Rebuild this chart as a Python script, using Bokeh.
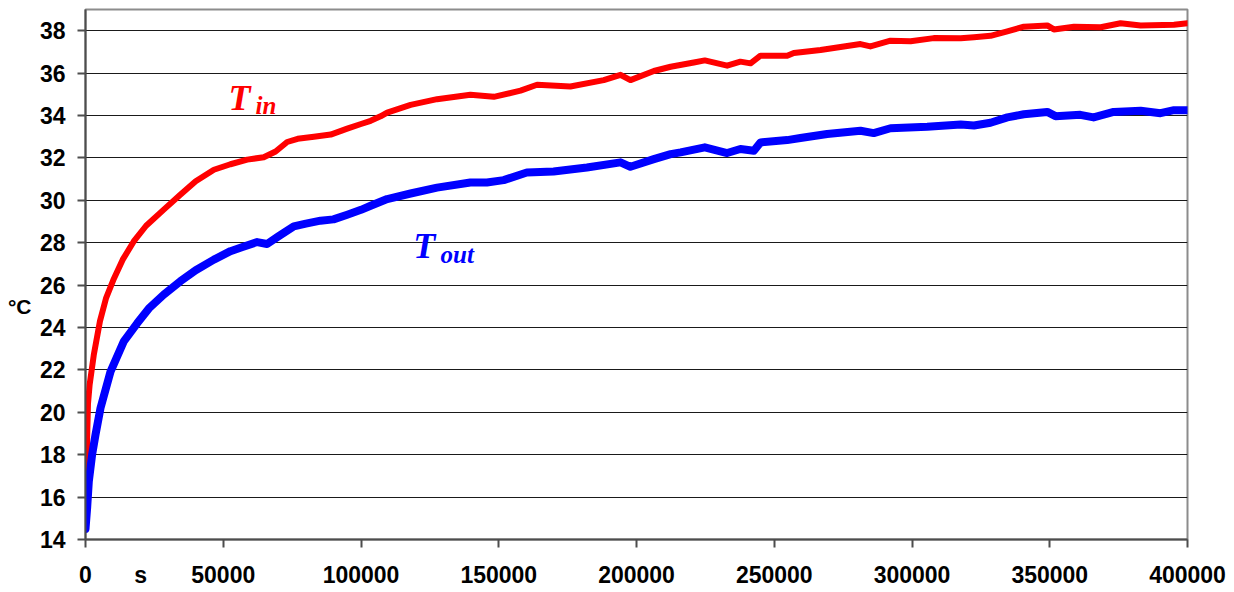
from bokeh.plotting import figure
from bokeh.models import FixedTicker, BasicTickFormatter, Label, Range1d, LinearAxis
from bokeh.embed import file_html
from bokeh.resources import INLINE

t_in_x = [0, 300, 600, 900, 1500, 3000, 5250, 7500, 10300, 13500, 17500, 22000, 28400, 34400,
          40000, 46600, 52600, 58700, 64700, 69000, 73200, 77000, 82900, 89000, 95000, 100000,
          103500, 107100, 109500, 118000, 127600, 139700, 148200, 157900, 163900, 176000, 188100,
          194200, 197800, 206300, 212400, 220800, 224800, 232900, 237700, 241400, 245000, 254700,
          257100, 266800, 281300, 284900, 292200, 299500, 307900, 317700, 322500, 328500, 334600,
          340600, 349100, 351500, 358800, 368500, 375700, 383000, 395100, 400000]
t_in_y = [14.6, 16.5, 18.8, 20.4, 21.3, 22.7, 24.3, 25.4, 26.3, 27.2, 28.06, 28.8, 29.56, 30.26,
          30.9, 31.44, 31.7, 31.92, 32.03, 32.3, 32.75, 32.9, 33.0, 33.1, 33.38, 33.6,
          33.75, 33.96, 34.14, 34.5, 34.77, 34.98, 34.88, 35.17, 35.45, 35.37, 35.67,
          35.92, 35.67, 36.1, 36.3, 36.5, 36.6, 36.35, 36.54, 36.46, 36.82, 36.82,
          36.95, 37.09, 37.37, 37.26, 37.53, 37.5, 37.65, 37.64, 37.69, 37.76, 37.97,
          38.19, 38.25, 38.06, 38.19, 38.16, 38.35, 38.25, 38.28, 38.35]

t_out_x = [0, 600, 1200, 2400, 3630, 5450, 9080, 13900, 18750, 23000, 28400, 34400, 40000, 46600,
           52600, 57000, 62300, 65900, 70000, 75600, 80000, 85300, 90000, 95000, 100000, 103500,
           109500, 118000, 127600, 139700, 145700, 151800, 160200, 169900, 182000, 194200, 197800,
           206300, 212400, 216000, 224800, 232900, 237700, 242600, 245000, 254700, 259500, 269200,
           281300, 286100, 292200, 305500, 317700, 322500, 328500, 334600, 340600, 349100, 352100,
           361100, 365900, 373200, 383000, 390200, 395100, 400000]
t_out_y = [14.5, 15.5, 16.74, 18.0, 18.94, 20.2, 21.92, 23.35, 24.2, 24.9, 25.55, 26.18, 26.7, 27.2,
           27.6, 27.8, 28.03, 27.94, 28.3, 28.77, 28.9, 29.04, 29.1, 29.32, 29.55, 29.74,
           30.06, 30.32, 30.6, 30.84, 30.84, 30.95, 31.31, 31.36, 31.55, 31.79, 31.58,
           31.94, 32.18, 32.26, 32.5, 32.23, 32.42, 32.34, 32.73, 32.84, 32.94, 33.13,
           33.28, 33.17, 33.4, 33.47, 33.57, 33.53, 33.66, 33.91, 34.06, 34.17, 33.97,
           34.03, 33.91, 34.17, 34.22, 34.11, 34.25, 34.25]

y_ticks = [14, 16, 18, 20, 22, 24, 26, 28, 30, 32, 34, 36, 38]
x_ticks = [0, 50000, 100000, 150000, 200000, 250000, 300000, 350000, 400000]
x_unit_pos = 20000
x_unit = "s"
y_unit_pos = 25.0
y_unit = "°C"

p = figure(width=1226, height=590, output_backend="svg", toolbar_location=None,
           x_range=Range1d(0, 400000), y_range=Range1d(14, 39),
           x_axis_location=None, y_axis_location=None,
           min_border_left=85, min_border_right=39, min_border_top=9, min_border_bottom=46)
p.background_fill_color = "white"
p.border_fill_color = "white"
p.outline_line_color = "#8c8c8c"
p.outline_line_width = 2

p.xgrid.visible = False
p.ygrid.grid_line_color = "#1a1a1a"
p.ygrid.grid_line_width = 1
p.ygrid.ticker = FixedTicker(ticks=y_ticks)

def style(ax):
    ax.axis_line_color = "#4d4d4d"
    ax.axis_line_width = 2
    ax.major_tick_line_color = "#4d4d4d"
    ax.major_tick_line_width = 2
    ax.major_tick_in = 0
    ax.major_tick_out = 8
    ax.minor_tick_line_color = None
    ax.major_label_text_font = "Liberation Sans"
    ax.major_label_text_font_style = "bold"
    ax.major_label_text_font_size = "23px"
    ax.major_label_text_color = "black"
    ax.major_label_standoff = 12

# x axis: tick marks only
xa = LinearAxis(ticker=FixedTicker(ticks=x_ticks))
style(xa)
xa.major_label_text_font_size = "1px"
xa.major_label_text_color = None
xa.major_label_standoff = 0
p.add_layout(xa, "below")

# x axis labels (incl. unit) without ticks
xl = LinearAxis(ticker=FixedTicker(ticks=x_ticks + [x_unit_pos]),
                formatter=BasicTickFormatter(use_scientific=False))
style(xl)
xl.axis_line_color = None
xl.major_tick_line_color = None
xl.major_tick_out = 0
xl.major_label_standoff = 14
xl.major_label_overrides = {x_unit_pos: x_unit}
p.add_layout(xl, "below")

# y axis
ya = LinearAxis(ticker=FixedTicker(ticks=y_ticks))
style(ya)
p.add_layout(ya, "left")

# y unit
yl = LinearAxis(ticker=FixedTicker(ticks=[y_unit_pos]))
style(yl)
yl.axis_line_color = None
yl.major_tick_line_color = None
yl.major_tick_out = 0
yl.major_label_standoff = 5
yl.major_label_text_font_size = "21px"
yl.major_label_overrides = {y_unit_pos: y_unit}
p.add_layout(yl, "left")

p.line(t_in_x, t_in_y, line_color="#ff0000", line_width=6, line_join="round", line_cap="round")
p.line(t_out_x, t_out_y, line_color="#0000ff", line_width=8, line_join="round", line_cap="round")

def lab(x, y, text, size, color):
    p.add_layout(Label(x=x, y=y, text=text, text_font="Liberation Serif",
                       text_font_style="bold italic", text_font_size=size,
                       text_color=color, text_align="left", text_baseline="alphabetic"))

lab(51900, 34.83, "T", "36px", "#ff0000")
lab(61700, 34.45, "in", "25px", "#ff0000")
lab(119000, 27.84, "T", "36px", "#0000ff")
lab(128900, 27.46, "out", "25px", "#0000ff")

open("out.html", "w").write(file_html(p, INLINE))
